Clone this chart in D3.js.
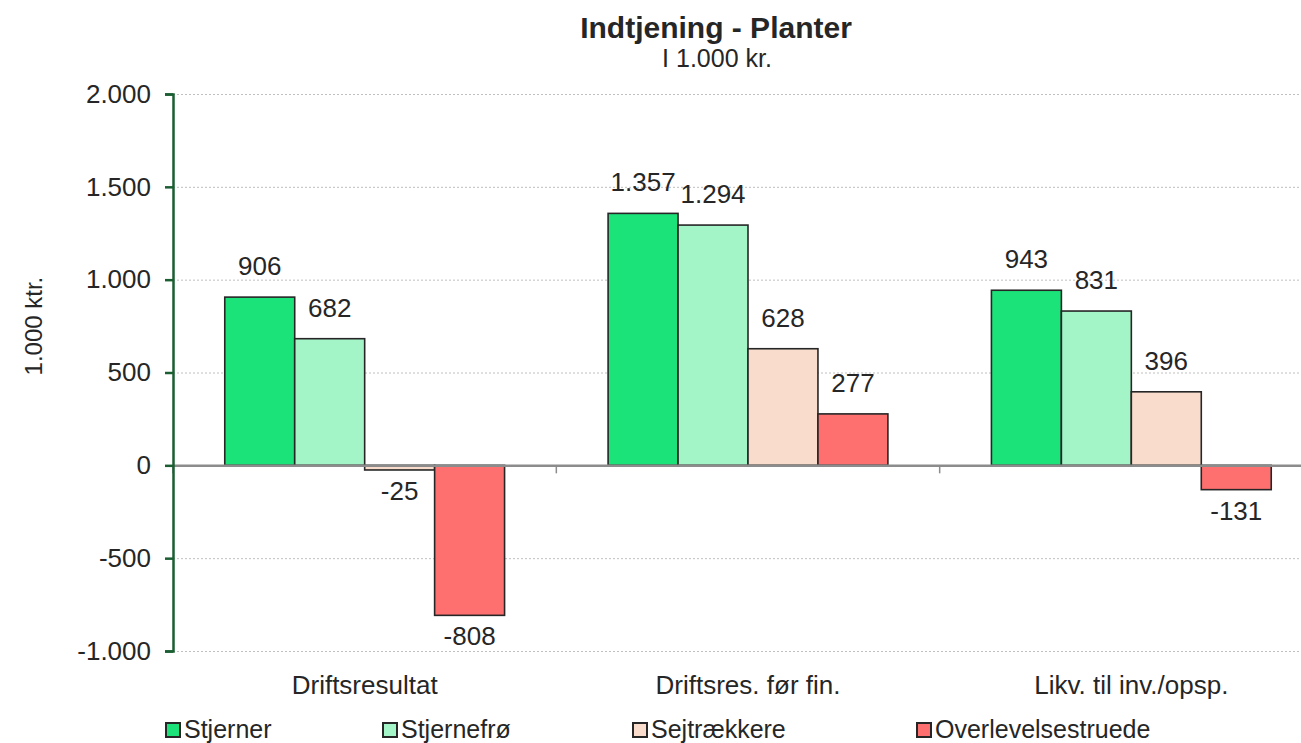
<!DOCTYPE html>
<html>
<head>
<meta charset="utf-8">
<script src="https://cdn.jsdelivr.net/npm/d3@7"></script>
<style>
  body { margin: 0; background: #fff; }
  text { font-family: "Liberation Sans", Arial, sans-serif; fill: #262626; }
  .grid line { stroke: #bfbfbf; stroke-dasharray: 2,2; }
  .grid path { display: none; }
</style>
</head>
<body>
<script>
// data
var kategorier = ["Driftsresultat", "Driftsres. før fin.", "Likv. til inv./opsp."];
var serier = ["Stjerner", "Stjernefrø", "Sejtrækkere", "Overlevelsestruede"];
var stjerner = [906, 1357, 943];
var stjernefro = [682, 1294, 831];
var sejtraekkere = [-25, 628, 396];
var overlevelse = [-808, 277, -131];
var yTicks = [-1000, -500, 0, 500, 1000, 1500, 2000];
var farver = ["#1be37a", "#a3f5c8", "#f9dccb", "#fe7070"];

var waarden = [stjerner, stjernefro, sejtraekkere, overlevelse];

var W = 1301, H = 743;
var plotL = 173, plotR = 1323, plotT = 94, plotB = 651;

var svg = d3.select("body").append("svg")
    .attr("width", W)
    .attr("height", H);

// schalen
var x0 = d3.scaleBand().domain(kategorier).range([plotL, plotR]).padding(0);
var x1 = d3.scaleBand().domain(serier).range([0, x0.bandwidth()]).paddingInner(0).paddingOuter(0.74);
var y = d3.scaleLinear().domain([-1000, 2000]).range([plotB, plotT]);

// Deens getalformaat met gewone min
var locale = d3.formatLocale({decimal: ",", thousands: ".", grouping: [3], currency: ["", " kr."], minus: "-"});
var fmt = locale.format(",");

// titel
svg.append("text")
    .attr("x", 716).attr("y", 38)
    .attr("text-anchor", "middle")
    .attr("font-size", "30px")
    .attr("font-weight", "bold")
    .text("Indtjening - Planter");

svg.append("text")
    .attr("x", 717).attr("y", 67)
    .attr("text-anchor", "middle")
    .attr("font-size", "25px")
    .text("I 1.000 kr.");

// gridlijnen
svg.append("g")
    .attr("class", "grid")
    .attr("transform", "translate(" + plotL + ",0)")
    .call(d3.axisRight(y).tickValues(yTicks.filter(function(t) { return t !== 0; }))
        .tickSize(plotR - plotL).tickFormat(""));

// staven
serier.forEach(function(s, i) {
  var rij = kategorier.map(function(k, j) { return {k: k, v: waarden[i][j]}; });
  svg.append("g").selectAll("rect")
      .data(rij)
      .enter().append("rect")
      .attr("x", function(d) { return x0(d.k) + x1(s); })
      .attr("y", function(d) { return y(Math.max(0, d.v)); })
      .attr("width", x1.bandwidth())
      .attr("height", function(d) { return Math.abs(y(d.v) - y(0)); })
      .attr("fill", farver[i])
      .attr("stroke", "#262626")
      .attr("stroke-width", 1.6);
});

// nul-lijn en categorie ticks
var xAxis = svg.append("g")
    .attr("transform", "translate(0," + y(0) + ")")
    .call(d3.axisBottom(x0).tickValues([]).tickSizeOuter(0));
xAxis.select(".domain").attr("stroke", "#8c8c8c").attr("stroke-width", 2.5);
xAxis.selectAll(".sep")
    .data(kategorier)
    .enter().append("line")
    .attr("class", "sep")
    .attr("x1", function(d) { return x0(d); })
    .attr("x2", function(d) { return x0(d); })
    .attr("y1", 0).attr("y2", 8)
    .attr("stroke", "#8c8c8c")
    .attr("stroke-width", 1.5);

// categorie labels
svg.append("g").selectAll("text")
    .data(kategorier)
    .enter().append("text")
    .attr("x", function(d) { return x0(d) + x0.bandwidth() / 2; })
    .attr("y", 694)
    .attr("text-anchor", "middle")
    .attr("font-size", "26px")
    .text(function(d) { return d; });

// y as
var yAxis = svg.append("g")
    .attr("transform", "translate(" + plotL + ",0)")
    .call(d3.axisLeft(y).tickValues(yTicks).tickSize(8).tickPadding(14).tickFormat(fmt));
yAxis.select(".domain").attr("stroke", "#1a5e32").attr("stroke-width", 2.5);
yAxis.selectAll(".tick line").attr("stroke", "#1a5e32").attr("stroke-width", 2.5);
yAxis.selectAll(".tick text")
    .attr("font-size", "26px")
    .attr("font-family", "Liberation Sans, Arial, sans-serif")
    .attr("fill", "#262626");

svg.append("text")
    .attr("transform", "translate(42," + y(750) + ") rotate(-90)")
    .attr("text-anchor", "middle")
    .attr("font-size", "24px")
    .text("1.000 ktr.");

// waarde labels
serier.forEach(function(s, i) {
  var rij = kategorier.map(function(k, j) { return {k: k, v: waarden[i][j]}; });
  svg.append("g").selectAll("text")
      .data(rij)
      .enter().append("text")
      .attr("x", function(d) { return x0(d.k) + x1(s) + x1.bandwidth() / 2; })
      .attr("y", function(d) { return d.v >= 0 ? y(d.v) - 22 : y(d.v) + 30; })
      .attr("text-anchor", "middle")
      .attr("font-size", "26px")
      .text(function(d) { return fmt(d.v); });
});

// legenda
var legX = [166, 383, 633, 917];
var leg = svg.append("g").selectAll("g")
    .data(serier)
    .enter().append("g")
    .attr("transform", function(d, i) { return "translate(" + legX[i] + ",723)"; });
leg.append("rect")
    .attr("width", 14).attr("height", 14)
    .attr("fill", function(d, i) { return farver[i]; })
    .attr("stroke", "#262626")
    .attr("stroke-width", 2);
leg.append("text")
    .attr("x", 18).attr("y", 15)
    .attr("font-size", "25px")
    .text(function(d) { return d; });
</script>
</body>
</html>
